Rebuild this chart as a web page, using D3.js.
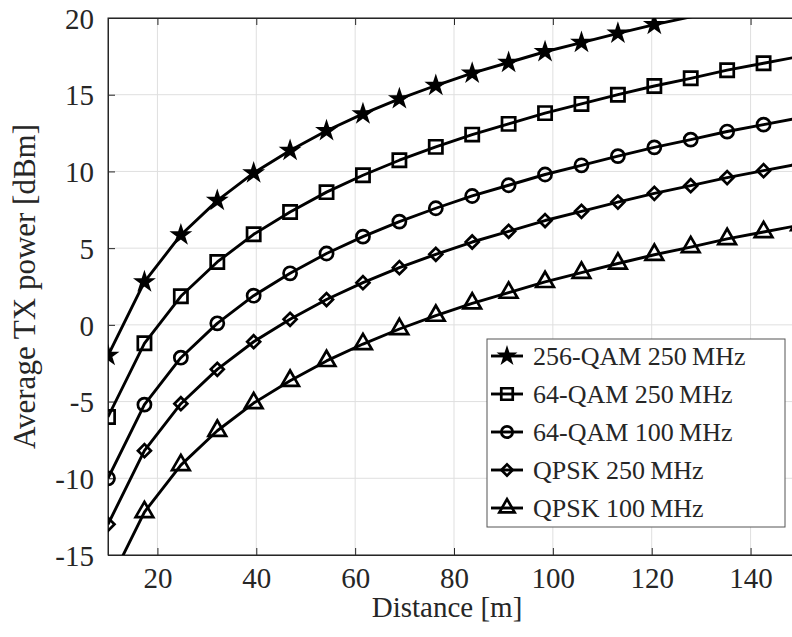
<!DOCTYPE html>
<html>
<head>
<meta charset="utf-8">
<script src="https://cdn.jsdelivr.net/npm/d3@7"></script>
<style>
  body { margin: 0; background: #fff; }
  svg { display: block; }
</style>
</head>
<body>
<div id="chart"></div>
<script>
// distance samples (m)
const distances = [10, 17.37, 24.74, 32.11, 39.47, 46.84, 54.21, 61.58, 68.95, 76.32,
  83.68, 91.05, 98.42, 105.79, 113.16, 120.53, 127.89, 135.26, 142.63, 150];

const qam256_250 = [-2, 2.8, 5.86, 8.1, 9.9, 11.36, 12.65, 13.75, 14.73, 15.6,
  16.4, 17.1, 17.8, 18.4, 19.0, 19.57, 20.07, 20.6, 21.05, 21.5];
const qam64_250 = [-6, -1.2, 1.86, 4.1, 5.9, 7.36, 8.65, 9.75, 10.73, 11.6,
  12.4, 13.1, 13.8, 14.4, 15.0, 15.57, 16.07, 16.6, 17.05, 17.5];
const qam64_100 = [-10, -5.2, -2.14, 0.1, 1.9, 3.36, 4.65, 5.75, 6.73, 7.6,
  8.4, 9.1, 9.8, 10.4, 11.0, 11.57, 12.07, 12.6, 13.05, 13.5];
const qpsk_250 = [-13, -8.2, -5.14, -2.9, -1.1, 0.36, 1.65, 2.75, 3.73, 4.6,
  5.4, 6.1, 6.8, 7.4, 8.0, 8.57, 9.07, 9.6, 10.05, 10.5];
const qpsk_100 = [-17, -12.2, -9.14, -6.9, -5.1, -3.64, -2.35, -1.25, -0.27, 0.6,
  1.4, 2.1, 2.8, 3.4, 4.0, 4.57, 5.07, 5.6, 6.05, 6.5];

const seriesNames = ["256-QAM 250\u2009MHz", "64-QAM 250\u2009MHz", "64-QAM 100\u2009MHz",
  "QPSK 250\u2009MHz", "QPSK 100\u2009MHz"];
const seriesValues = [qam256_250, qam64_250, qam64_100, qpsk_250, qpsk_100];

const xTicks = [20, 40, 60, 80, 100, 120, 140];
const yTicks = [-15, -10, -5, 0, 5, 10, 15, 20];

const width = 792, height = 637;
const margin = { left: 108, top: 18 };
const plotW = 692, plotH = 537;
const ink = "#262626";
const font = "'Liberation Serif', 'Times New Roman', serif";

const x = d3.scaleLinear().domain([10, 150]).range([margin.left, margin.left + plotW]);
const y = d3.scaleLinear().domain([-15, 20]).range([margin.top + plotH, margin.top]);

const svg = d3.select("#chart").append("svg")
  .attr("width", width)
  .attr("height", height);

svg.append("defs").append("clipPath").attr("id", "clip")
  .append("rect")
  .attr("x", margin.left).attr("y", margin.top)
  .attr("width", plotW).attr("height", plotH);

// grid
const grid = svg.append("g").attr("stroke", "#dfdfdf").attr("stroke-width", 1);
grid.selectAll(".gx").data(xTicks).join("line")
  .attr("x1", d => x(d)).attr("x2", d => x(d))
  .attr("y1", margin.top).attr("y2", margin.top + plotH);
grid.selectAll(".gy").data(yTicks).join("line")
  .attr("x1", margin.left).attr("x2", margin.left + plotW)
  .attr("y1", d => y(d)).attr("y2", d => y(d));

// axes (ticks inward)
const xAxis = d3.axisBottom(x).tickValues(xTicks).tickSizeInner(-7).tickSizeOuter(0).tickPadding(12);
const yAxis = d3.axisLeft(y).tickValues(yTicks).tickSizeInner(-7).tickSizeOuter(0).tickPadding(14)
  .tickFormat(d => d < 0 ? "-" + Math.abs(d) : d);

const gx = svg.append("g").attr("transform", `translate(0,${margin.top + plotH})`).call(xAxis);
const gy = svg.append("g").attr("transform", `translate(${margin.left},0)`).call(yAxis);
svg.append("g").attr("transform", `translate(0,${margin.top})`)
  .call(d3.axisTop(x).tickValues(xTicks).tickSizeInner(-7).tickSizeOuter(0).tickFormat(""))
  .selectAll("path, line").attr("stroke", ink);

[gx, gy].forEach(g => {
  g.selectAll("path, line").attr("stroke", ink);
  g.selectAll("text").attr("fill", ink).attr("font-family", font).attr("font-size", 29);
});
gy.selectAll("text").attr("dy", "0.35em");

// box
svg.append("rect")
  .attr("x", margin.left).attr("y", margin.top)
  .attr("width", plotW).attr("height", plotH)
  .attr("fill", "none").attr("stroke", ink).attr("stroke-width", 1);

// markers
const markers = [
  { type: d3.symbolStar, size: 66, fill: "#000", rot: 0 },
  { type: d3.symbolSquare, size: 175, fill: "none", rot: 0 },
  { type: d3.symbolCircle, size: 135, fill: "none", rot: 0 },
  { type: d3.symbolSquare, size: 84, fill: "none", rot: 45 },
  { type: d3.symbolTriangle, size: 135, fill: "none", rot: 0 }
];

const line = d3.line().x((d, i) => x(distances[i])).y(d => y(d));

const plot = svg.append("g").attr("clip-path", "url(#clip)");
seriesValues.forEach((vals, k) => {
  const m = markers[k];
  plot.append("path")
    .attr("d", line(vals))
    .attr("fill", "none").attr("stroke", "#000").attr("stroke-width", 2.9)
    .attr("stroke-linejoin", "round");
  // markers outside the axis limits are not drawn
  const pts = vals.map((v, i) => [distances[i], v]).filter(p => p[1] >= -15 && p[1] <= 20);
  plot.append("g").selectAll("path").data(pts).join("path")
    .attr("transform", d => `translate(${x(d[0])},${y(d[1])}) rotate(${m.rot})`)
    .attr("d", d3.symbol().type(m.type).size(m.size))
    .attr("fill", m.fill).attr("stroke", "#000").attr("stroke-width", 2.7);
});

// axis titles
svg.append("text")
  .attr("x", margin.left + plotW / 2 - 7).attr("y", 617)
  .attr("text-anchor", "middle")
  .attr("font-family", font).attr("font-size", 29).attr("fill", ink)
  .text("Distance [m]");

svg.append("text")
  .attr("transform", `translate(35,${margin.top + plotH / 2}) rotate(-90)`)
  .attr("text-anchor", "middle")
  .attr("font-family", font).attr("font-size", 31).attr("fill", ink)
  .text("Average TX power [dBm]");

// legend
const lg = svg.append("g").attr("transform", "translate(487,339)");
lg.append("rect").attr("width", 298).attr("height", 188)
  .attr("fill", "#fff").attr("stroke", "#555").attr("stroke-width", 1);
seriesNames.forEach((name, k) => {
  const m = markers[k];
  const row = lg.append("g").attr("transform", `translate(0,${17 + k * 38})`);
  row.append("line").attr("x1", 4).attr("x2", 36).attr("y1", 0).attr("y2", 0)
    .attr("stroke", "#000").attr("stroke-width", 2.9);
  row.append("path")
    .attr("transform", `translate(20,0) rotate(${m.rot})`)
    .attr("d", d3.symbol().type(m.type).size(m.size * 0.75))
    .attr("fill", m.fill).attr("stroke", "#000").attr("stroke-width", 2.7);
  row.append("text").attr("x", 46).attr("y", 0).attr("dy", "0.35em")
    .attr("font-family", font).attr("font-size", 26).attr("fill", ink)
    .text(name);
});
</script>
</body>
</html>
